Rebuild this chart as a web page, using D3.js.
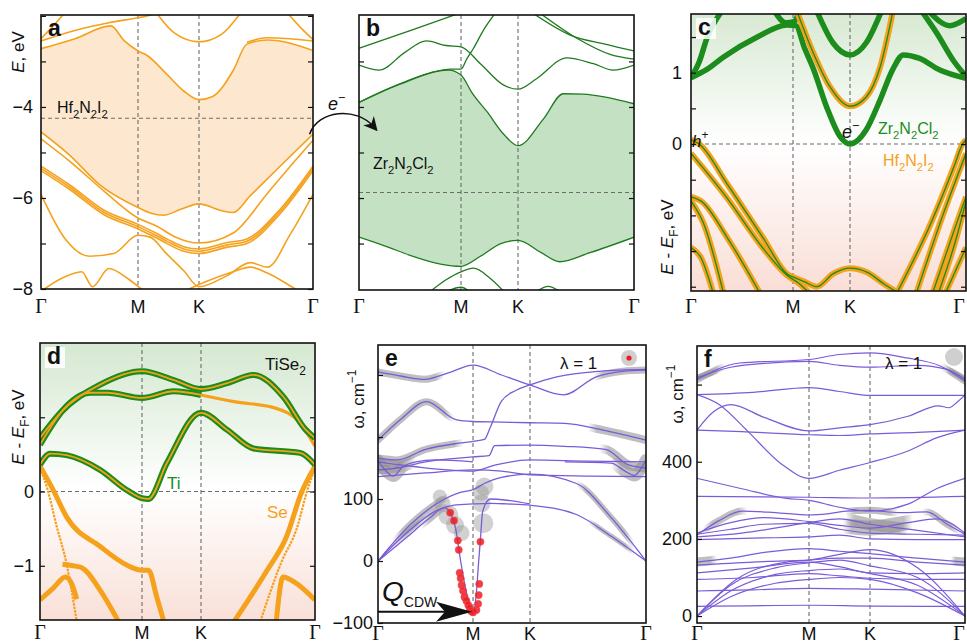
<!DOCTYPE html>
<html>
<head>
<meta charset="utf-8">
<script src="https://cdn.jsdelivr.net/npm/d3@7"></script>
<style>
  body { margin: 0; background: #fff; }
  text { font-family: "Liberation Sans", Arial, Helvetica, sans-serif; }
</style>
</head>
<body>
<svg id="fig" width="967" height="644"></svg>
<script>
// k path: 0 = Γ, 1 = M, 2 = K, 3 = Γ.  every band is a list of [k, value]
const kLabels = ["Γ", "M", "K", "Γ"];

// ---- a: Hf2N2I2 (eV)
const aGapTop = [[0,-2.72],[0.35,-2.5],[0.72,-2.22],[0.86,-2.55],[1,-2.77],[1.15,-2.87],[1.45,-3.25],[1.75,-3.65],[2,-3.84],[2.12,-3.77],[2.3,-3.2],[2.42,-2.62],[2.6,-2.53],[3,-2.76]];
const aGapBottom = [[0,-4.55],[0.3,-5.07],[0.6,-5.7],[1,-6.21],[1.2,-6.33],[1.42,-6.38],[1.7,-6.25],[2,-6.13],[2.2,-6.28],[2.3,-6.32],[2.45,-5.95],[2.7,-5.33],[3,-4.6]];
const aBands = [
  aGapTop, aGapBottom,
  [[0,-2.5],[0.1,-2.28],[0.25,-1.92]],
  [[0,-2.55],[0.35,-2.32],[0.7,-2.15],[1,-2.04],[1.15,-2.0],[1.3,-1.95]],
  [[1.31,-1.95],[1.6,-2.38],[2,-2.57],[2.2,-2.4],[2.36,-1.95]],
  [[2.42,-2.58],[2.6,-2.48],[3,-2.55]],
  [[2.78,-1.95],[2.9,-2.28],[3,-2.52]],
  [[0,-4.7],[0.3,-5.2],[0.65,-5.85],[1,-6.44],[1.31,-6.62],[1.6,-6.85],[2,-6.99],[2.3,-6.77],[2.6,-5.9],[2.85,-5.16],[3,-4.73]],
  [[0,-5.3],[0.3,-5.72],[0.65,-6.27],[1,-6.58],[1.25,-6.74],[1.5,-6.92],[1.75,-7.07],[2,-7.12],[2.25,-6.98],[2.42,-6.9],[2.7,-6.28],[3,-5.3]],
  [[0,-5.35],[0.3,-5.77],[0.65,-6.32],[1,-6.63],[1.25,-6.79],[1.5,-6.97],[1.75,-7.12],[2,-7.17],[2.25,-7.03],[2.42,-6.95],[2.7,-6.33],[3,-5.35]],
  [[0,-5.4],[0.3,-5.82],[0.65,-6.37],[1,-6.68],[1.25,-6.84],[1.5,-7.02],[1.75,-7.17],[2,-7.22],[2.25,-7.08],[2.42,-7.0],[2.7,-6.38],[3,-5.4]],
  [[0,-5.92],[0.25,-6.9],[0.5,-7.28],[0.75,-7.22],[1,-6.82],[1.2,-6.86],[1.45,-7.2],[1.75,-7.6],[2,-7.95],[2.25,-7.7],[2.45,-7.42],[2.6,-7.52],[2.8,-6.8],[3,-5.92]],
  [[0,-8.05],[0.2,-7.78],[0.42,-7.62],[0.53,-7.95],[0.7,-7.55],[0.9,-7.78],[1.1,-8.05]],
  [[1.75,-8.05],[2,-7.9],[2.3,-7.62],[2.45,-7.52],[2.6,-7.65],[2.78,-7.9],[2.88,-8.05]]
];

// ---- b: Zr2N2Cl2 (eV)
const bGapTop = [[0,-3.9],[0.4,-3.5],[0.88,-3.19],[1,-3.3],[1.2,-3.7],[1.46,-4.11],[1.75,-4.6],[2,-4.85],[2.22,-4.26],[2.39,-3.71],[2.56,-3.72],[3,-3.93]];
const bGapBottom = [[0,-6.86],[0.25,-7.05],[0.53,-7.28],[0.8,-7.45],[1,-7.5],[1.34,-7.28],[1.7,-7.0],[2,-6.93],[2.2,-7.2],[2.36,-7.4],[2.62,-7.2],[3,-6.86]];
const bBands = [
  bGapTop, bGapBottom,
  [[0,-3.9],[0.37,-3.52],[0.7,-3.25],[0.9,-3.17],[1,-3.17],[1.1,-2.95],[1.22,-2.71],[1.4,-2.3],[1.6,-1.94]],
  [[0,-3.08],[0.2,-3.19],[0.45,-2.8],[0.66,-2.55],[0.85,-2.65],[1,-2.68],[1.34,-3.05],[1.75,-3.52],[2,-3.61],[2.16,-3.38],[2.42,-2.92],[2.65,-3.05],[2.82,-3.19],[3,-3.08]],
  [[0,-2.71],[0.53,-2.3],[0.96,-1.96]],
  [[2.14,-1.96],[2.45,-2.42],[2.75,-2.62],[3,-2.77]],
  [[2.2,-1.96],[2.5,-2.48],[2.8,-2.85],[3,-2.95]],
  [[0.7,-8.05],[0.85,-7.8],[1,-7.62],[1.22,-7.54],[1.5,-7.75],[1.75,-8.05]],
  [[0.86,-8.05],[1,-7.96],[1.15,-8.05]],
  [[2.16,-8.05],[2.26,-7.94],[2.36,-8.05]]
];

// ---- c: heterostructure, E - EF (eV)
const cZr = [
  [[0,0.93],[0.16,1.05],[0.32,1.22],[0.65,1.5],[0.94,1.67],[1.05,1.66],[1.2,1.35],[1.36,1.05],[1.59,0.52],[1.83,0.1],[2,0],[2.14,0.2],[2.26,0.62],[2.37,1.05],[2.46,1.25],[2.6,1.2],[2.77,1.04],[3,0.92]],
  [[0,0.93],[0.08,1.15],[0.16,1.5],[0.3,1.86]],
  [[2.62,1.86],[2.75,1.55],[2.9,1.15],[3,0.95]],
  [[1.42,1.86],[1.7,1.42],[2,1.25],[2.14,1.42],[2.27,1.86]],
  [[2.68,1.86],[2.86,1.66],[3,1.76]],
  [[0.82,1.86],[0.93,1.7],[1.03,1.72],[1.1,1.86]]
];
const cHf = [
  [[1.07,1.86],[1.36,1.27],[1.65,0.8],[2,0.53],[2.14,0.66],[2.26,1.08],[2.37,1.86]],
  [[0,0.06],[0.08,0.0],[0.35,-0.55],[0.7,-1.3],[0.95,-1.83],[1.05,-1.88],[1.2,-1.93],[1.42,-2.0],[1.7,-1.82],[2,-1.74],[2.15,-1.8],[2.3,-1.97],[2.43,-2.1]],
  [[0,-0.13],[0.35,-0.75],[0.7,-1.45],[0.95,-1.85],[1.1,-1.95],[1.3,-2.1]],
  [[0,-0.74],[0.1,-0.8],[0.35,-1.3],[0.68,-2.1]],
  [[0,-0.8],[0.12,-1.1],[0.32,-2.1]],
  [[0,-1.45],[0.1,-1.6],[0.22,-2.1]],
  [[2.4,-2.1],[2.7,-1.1],[2.9,-0.3],[2.97,0.0],[3,0.06]],
  [[2.57,-2.1],[2.8,-1.0],[3,-0.13]],
  [[2.71,-2.1],[2.9,-1.2],[3,-0.74]],
  [[2.76,-2.1],[2.92,-1.3],[3,-0.8]],
  [[2.82,-2.1],[3,-1.45]]
];

// ---- d: TiSe2, E - EF (eV)
const dTi = [
  [[0,0.72],[0.2,1.06],[0.59,1.44],[1,1.62],[1.54,1.5],[2,1.38],[2.23,1.46],[2.46,1.57],[2.72,1.28],[2.92,0.83],[3,0.72]],
  [[0,0.63],[0.26,1.15],[0.49,1.33],[0.66,1.33],[1,1.26],[1.54,1.35],[2,1.3]],
  [[0,0.36],[0.1,0.51],[0.26,0.49],[0.59,0.29],[0.85,0.02],[1,-0.09],[1.11,-0.1],[1.42,0.38],[2,1.06],[2.23,0.83],[2.46,0.58],[2.87,0.52],[3,0.36]]
];
const dSeMid = [[2,1.3],[2.29,1.21],[2.66,1.12],[2.87,0.92],[3,0.61]];
const dSe = [
  [[0,0.34],[0.13,0.02],[0.26,-0.34],[0.59,-0.74],[0.85,-0.99],[1,-1.06],[1.11,-1.06],[1.25,-1.42],[1.37,-1.75]],
  [[2.29,-1.75],[2.58,-1.06],[2.75,-0.61],[2.88,-0.02],[3,0.34]],
  [[0.22,-0.98],[0.28,-0.99],[0.4,-1.02],[0.59,-1.33],[0.77,-1.75]],
  [[0,-1.46],[0.13,-1.3],[0.25,-1.15],[0.31,-1.24],[0.36,-1.45]],
  [[2.66,-1.75],[2.72,-1.15],[2.82,-1.22],[3,-1.46]]
];
const dSeWeak = [
  [[0,0.32],[0.08,0.0],[0.16,-0.45],[0.26,-0.97],[0.36,-1.75]],
  [[2.52,-1.75],[2.7,-0.97],[2.85,-0.45],[2.92,-0.05],[3,0.32]]
];

// ---- e: TiSe2 phonons (cm-1)
const eBands = [
  [[0,305],[0.25,298],[0.49,293],[0.75,304],[1,316],[1.5,300],[2,284],[2.29,268],[2.57,297],[2.8,306],[3,308]],
  [[0,166],[0.2,163],[0.5,180],[0.85,190],[1,193],[1.2,196],[1.3,215],[1.5,258],[1.75,275],[2,284],[2.23,297],[2.6,306],[3,309]],
  [[0,195],[0.25,230],[0.51,257],[0.82,228],[1,225],[1.5,224],[2,223],[2.3,222],[2.63,211],[3,195]],
  [[0,147],[0.2,150],[0.5,160],[0.85,166],[1,168],[1.28,170],[1.38,186],[2,187],[2.3,185],[2.65,180],[2.85,155],[3,150]],
  [[0,136],[0.5,142],[1,147],[1.5,145],[2,139],[2.5,137],[3,136]],
  [[0,160],[0.4,152],[1,145],[1.4,155],[2,163],[2.5,161],[3,160]],
  [[0,162],[0.08,146],[0.16,137],[0.26,152],[0.4,160],[0.6,163],[1,160]],
  [[2.3,160],[2.7,158],[2.82,145],[2.9,138],[2.96,150],[3,163]],
  [[0,0],[0.3,45],[0.6,80],[0.8,90],[1,92],[1.3,93],[1.6,92],[2,90],[2.4,75],[2.7,40],[3,0]],
  [[0,0],[0.35,60],[0.7,100],[0.85,110],[1,115],[1.2,125],[1.5,135],[2,140],[2.4,125],[2.7,70],[3,0]],
  [[0,0],[0.3,38],[0.55,70],[0.7,86],[0.76,78],[0.82,50],[0.87,0],[0.93,-50],[1,-84],[1.06,-50],[1.1,0],[1.13,35],[1.17,80],[1.3,100],[1.6,98],[2,92]]
];
// [band, k from, k to, width]
const eHalos = [[0,0,0.7,7],[0,2.55,3,7],[2,0,0.8,7],[2,2.5,3,8],[1,0,0.9,7],[3,0,0.3,9],[3,2.6,3,9],
  [6,0,0.4,12],[7,2.7,3,12],[5,0,0.3,8],[9,0.15,0.75,7],[9,2.4,2.9,6],[8,0.2,0.5,5],[8,2.5,2.9,5],[10,0.45,0.75,8]];
// [k, ω, r]
const eBlobs = [[0.65,104,7],[0.68,92,8],[0.74,74,10],[0.81,58,9],[0.88,45,8],[1.2,120,9],[1.15,93,9],[1.18,61,10],[1.14,110,8]];
// [k, ω]  soft CDW mode
const eSoft = [[0.76,78],[0.8,65],[0.84,33],[0.85,18],[0.86,-19],[0.87,-28],[0.88,-39],[0.895,-48],[0.91,-58],[0.93,-64],[0.95,-71],[0.965,-76],[0.98,-81],[1.0,-83],[1.06,-79],[1.09,-69],[1.1,-55],[1.11,-37],[1.13,31]];

// ---- f: heterostructure phonons (cm-1)
const fBands = [
  [[0,613],[0.38,656],[1,665],[1.5,678],[2,682],[2.39,669],[2.74,648],[3,609]],
  [[0,618],[0.3,645],[0.6,655],[1,660],[1.5,650],[2,645],[2.5,650],[2.8,640],[3,614]],
  [[0,574],[0.5,580],[1,592],[1.5,582],[2,572],[3,572]],
  [[0,574],[0.2,548],[0.45,480],[0.75,395],[1,357],[1.5,378],[2,398],[2.4,428],[2.7,462],[3,482]],
  [[0,482],[0.15,530],[0.3,548],[0.6,515],[1,480],[1.5,488],[2,496],[2.4,518],[2.72,545],[2.83,540],[2.92,555],[3,573]],
  [[0,482],[0.4,478],[1,470],[1.5,468],[2,472],[2.5,476],[3,482]],
  [[0,357],[0.4,330],[0.8,305],[1,300],[1.5,282],[2,272],[2.4,290],[2.7,330],[3,357]],
  [[0,310],[1,308],[2,306],[3,310]],
  [[0,210],[0.2,248],[0.4,272],[0.7,268],[1,262],[1.3,265],[1.6,272],[2,274],[2.3,268],[2.6,270],[2.8,240],[3,212]],
  [[0,215],[0.3,242],[0.6,255],[1,245],[1.5,235],[2,228],[2.4,242],[2.7,252],[3,215]],
  [[0,205],[0.4,215],[1,242],[1.5,252],[2,238],[2.5,222],[3,205]],
  [[0,198],[0.5,202],[1,205],[1.5,210],[2,200],[2.5,198],[3,198]],
  [[0,212],[0.3,225],[0.6,238],[1,240],[1.5,225],[2,215],[2.5,212],[3,210]],
  [[0,140],[0.3,150],[0.6,165],[1,175],[1.5,168],[2,162],[2.5,150],[3,140]],
  [[0,132],[0.5,140],[1,145],[1.5,150],[2,150],[2.5,140],[3,132]],
  [[0,112],[0.5,125],[1,140],[1.5,128],[2,112],[2.5,110],[3,112]],
  [[0,95],[0.5,100],[1,110],[1.5,104],[2,98],[2.5,95],[3,95]],
  [[0,65],[0.5,68],[1,72],[2,70],[3,65]],
  [[0,25],[1,28],[2,26],[3,25]],
  [[0,0],[0.3,50],[0.7,85],[1,95],[1.5,100],[2,95],[2.5,60],[3,0]],
  [[0,0],[0.3,65],[0.7,108],[1,118],[1.5,122],[2,110],[2.5,80],[3,0]],
  [[0,0],[0.3,80],[0.7,125],[1,138],[1.5,145],[2,130],[2.5,100],[3,0]],
  [[0,0],[0.35,95],[0.8,140],[1,145],[1.5,160],[2,172],[2.5,125],[3,0]]
];
const fHalos = [[0,0,0.25,7],[1,0,0.2,6],[0,2.75,3,7],[1,2.8,3,6],[8,0.05,0.45,7],[8,2.55,2.95,7],
  [9,1.55,2.45,15],[10,1.6,2.4,12],[8,1.6,2.3,7],[13,0,0.18,9],[13,2.85,3,9]];

const ORANGE = "#f5a11c", GREEN = "#1f7a1f", ZR = "#1c8c1c", PURPLE = "#7a5bd8";

const svg = d3.select("#fig");
const defs = svg.append("defs");
let uid = 0;

function makePanel(p) {
  const x = d3.scaleLinear().domain([0, 1, 2, 3]).range(p.xs);
  const y = d3.scaleLinear().domain(p.yDomain).range([p.bottom, p.top]);
  const id = "clip" + (uid++);
  defs.append("clipPath").attr("id", id).append("rect")
    .attr("x", p.xs[0]).attr("y", p.top)
    .attr("width", p.xs[3] - p.xs[0]).attr("height", p.bottom - p.top);
  const g = svg.append("g");
  const inner = g.append("g").attr("clip-path", `url(#${id})`);
  const line = d3.line().x(d => x(d[0])).y(d => y(d[1])).curve(d3.curveMonotoneX);
  return { p, x, y, g, inner, line };
}

function background(P, top, bottom) {
  const id = "grad" + (uid++);
  const z = (P.y(0) - P.p.top) / (P.p.bottom - P.p.top);
  const lg = defs.append("linearGradient").attr("id", id)
    .attr("gradientUnits", "userSpaceOnUse")
    .attr("x1", 0).attr("x2", 0).attr("y1", P.p.top).attr("y2", P.p.bottom);
  lg.append("stop").attr("offset", 0).attr("stop-color", top);
  lg.append("stop").attr("offset", z).attr("stop-color", "#ffffff");
  lg.append("stop").attr("offset", 1).attr("stop-color", bottom);
  P.inner.append("rect").attr("x", P.x(0)).attr("y", P.p.top)
    .attr("width", P.x(3) - P.x(0)).attr("height", P.p.bottom - P.p.top)
    .attr("fill", `url(#${id})`);
}

function gapFill(P, upper, lower, color) {
  const id = "gap" + (uid++);
  const { x, p, line } = P;
  defs.append("clipPath").attr("id", id).append("path")
    .attr("d", line(upper) + `L${x(3)},${p.bottom + 5}L${x(0)},${p.bottom + 5}Z`);
  P.inner.append("path").attr("clip-path", `url(#${id})`)
    .attr("d", line(lower) + `L${x(3)},${p.top - 5}L${x(0)},${p.top - 5}Z`)
    .attr("fill", color);
}

function dashes(P, ef) {
  const d = P.inner.append("g").attr("stroke", "#6b6b6b").attr("stroke-width", 1.1)
    .attr("stroke-dasharray", "4,3").attr("fill", "none");
  [1, 2].forEach(k => d.append("line").attr("x1", P.x(k)).attr("x2", P.x(k))
    .attr("y1", P.p.top).attr("y2", P.p.bottom));
  if (ef !== undefined) d.append("line").attr("x1", P.x(0)).attr("x2", P.x(3))
    .attr("y1", P.y(ef)).attr("y2", P.y(ef));
}

function bands(P, data, color, width, dash) {
  P.inner.append("g").selectAll("path").data(data).join("path")
    .attr("d", P.line).attr("fill", "none").attr("stroke", color)
    .attr("stroke-width", width).attr("stroke-linejoin", "round")
    .attr("stroke-dasharray", dash || null);
}

// grey coupling halo along part of a band, fading out at its ends
function halos(P, data, list) {
  list.forEach(([b, k0, k1, w]) => {
    const x0 = P.x(k0), x1 = P.x(k1), len = x1 - x0;
    const f = Math.min(0.35, 9 / len);
    const gid = "hg" + (uid++), mid = "hm" + (uid++);
    const lg = defs.append("linearGradient").attr("id", gid)
      .attr("gradientUnits", "userSpaceOnUse").attr("x1", x0).attr("x2", x1).attr("y1", 0).attr("y2", 0);
    lg.append("stop").attr("offset", 0).attr("stop-color", k0 === 0 ? "#fff" : "#000");
    lg.append("stop").attr("offset", f).attr("stop-color", "#fff");
    lg.append("stop").attr("offset", 1 - f).attr("stop-color", "#fff");
    lg.append("stop").attr("offset", 1).attr("stop-color", k1 === 3 ? "#fff" : "#000");
    defs.append("mask").attr("id", mid).attr("maskUnits", "userSpaceOnUse")
      .attr("x", x0).attr("y", P.p.top).attr("width", len).attr("height", P.p.bottom - P.p.top)
      .append("rect").attr("x", x0).attr("y", P.p.top).attr("width", len)
      .attr("height", P.p.bottom - P.p.top).attr("fill", `url(#${gid})`);
    P.inner.append("path").attr("mask", `url(#${mid})`)
      .attr("d", P.line(data[b])).attr("fill", "none")
      .attr("stroke", "#8a8a8a").attr("stroke-opacity", 0.55)
      .attr("stroke-width", w).attr("stroke-linecap", "round");
  });
}

function frame(P, o) {
  const { g, x, y, p } = P;
  const fmt = v => o.labels.includes(v) ? d3.format("")(v) : "";
  const la = g.append("g").attr("transform", `translate(${x(0)},0)`)
    .call(d3.axisLeft(y).tickValues(o.ticks).tickSize(-5).tickPadding(o.pad || 7).tickFormat(fmt));
  la.select(".domain").remove();
  la.selectAll("text").attr("font-size", 18).attr("fill", "#111")
    .attr("font-family", "'Liberation Sans', Arial, sans-serif");
  la.selectAll("line").attr("stroke", "#111").attr("stroke-width", 1.2);
  if (o.right) {
    const ra = g.append("g").attr("transform", `translate(${x(3)},0)`)
      .call(d3.axisRight(y).tickValues(o.ticks).tickSize(-5).tickFormat(""));
    ra.select(".domain").remove();
    ra.selectAll("line").attr("stroke", "#111").attr("stroke-width", 1.2);
  }
  g.append("rect").attr("x", x(0)).attr("y", p.top)
    .attr("width", x(3) - x(0)).attr("height", p.bottom - p.top)
    .attr("fill", "none").attr("stroke", "#111").attr("stroke-width", 1.6);
  // keep the last Γ inside the page when the panel touches the right edge
  g.selectAll("text.k").data(kLabels).join("text").attr("class", "k")
    .attr("x", (d, i) => Math.min(x(i), 959)).attr("y", o.kY)
    .attr("text-anchor", "middle").attr("fill", "#111")
    .attr("font-size", d => d === "Γ" ? 20 : 18)
    .style("font-family", d => d === "Γ" ? "'Liberation Serif', 'Times New Roman', serif" : null)
    .text(d => d);
}

function letter(P, s, box) {
  const px = P.x(0) + 7, py = P.p.top + 21;
  if (box) P.g.append("rect").attr("x", px - 2).attr("y", py - 17).attr("width", 20).attr("height", 21)
    .attr("fill", "#fff").attr("opacity", 0.85);
  P.g.append("text").attr("x", px).attr("y", py).attr("font-size", 23)
    .attr("font-weight", "bold").attr("fill", "#111").text(s);
}

// rich text: parts [text, kind] with kind "", "i", "sub", "sup"
function rich(sel, x, y, parts, o = {}) {
  const size = o.size || 17;
  const t = sel.append("text").attr("x", x).attr("y", y)
    .attr("font-size", size).attr("fill", o.color || "#111");
  if (o.anchor) t.attr("text-anchor", o.anchor);
  if (o.rotate) t.attr("transform", `rotate(-90,${x},${y})`);
  let shift = 0;
  parts.forEach(([s, k]) => {
    const ts = t.append("tspan").text(s);
    const kinds = (k || "").split(" ");
    let target = 0;
    if (kinds.includes("sub")) { target = 0.32; ts.attr("font-size", size * 0.7); }
    if (kinds.includes("sup")) { target = -0.45; ts.attr("font-size", size * 0.7); }
    if (kinds.includes("i")) ts.attr("font-style", "italic");
    if (o.big && kinds.includes("big")) ts.attr("font-size", o.big);
    if (target !== shift) ts.attr("dy", (target - shift) * size);
    shift = target;
  });
  return t;
}

// ---------- panel a
const A = makePanel({ xs: [41, 138, 199, 313], top: 15, bottom: 289, yDomain: [-8, -1.98] });
gapFill(A, aGapTop, aGapBottom, "#fde8cf");
dashes(A, -4.25);
bands(A, aBands, ORANGE, 1.6);
frame(A, { ticks: [-8, -7, -6, -5, -4, -3, -2], labels: [-8, -6, -4], right: true, pad: 8, kY: 313 });
letter(A, "a");
rich(A.g, 57, 113, [["Hf"], ["2", "sub"], ["N"], ["2", "sub"], ["I"], ["2", "sub"]], { size: 16 });
rich(svg, 24, 52, [["E", "i"], [", eV"]], { size: 17, anchor: "middle", rotate: true });

// ---------- panel b
const B = makePanel({ xs: [359, 461, 518, 634], top: 15, bottom: 290, yDomain: [-8.02, -1.98] });
gapFill(B, bGapTop, bGapBottom, "#c4e2c3");
dashes(B, -5.88);
bands(B, bBands, GREEN, 1.3);
frame(B, { ticks: [-7, -6, -5, -4, -3], labels: [], right: true, kY: 313 });
letter(B, "b");
rich(B.g, 373, 169, [["Zr"], ["2", "sub"], ["N"], ["2", "sub"], ["Cl"], ["2", "sub"]], { size: 16 });

// ---------- panel c
const C = makePanel({ xs: [691, 793, 850, 966], top: 14, bottom: 291, yDomain: [-2.06, 1.823] });
background(C, "#d8e9d3", "#f9ded6");
dashes(C, 0);
bands(C, cZr, ZR, 5.5);
bands(C, cHf, ORANGE, 6);
bands(C, cHf, ZR, 1.3);
frame(C, { ticks: [-2, -1.5, -1, -0.5, 0, 0.5, 1, 1.5], labels: [0, 1], right: true, pad: 9, kY: 313 });
letter(C, "c", true);
rich(C.g, 878, 134, [["Zr"], ["2", "sub"], ["N"], ["2", "sub"], ["Cl"], ["2", "sub"]], { size: 16, color: ZR });
rich(C.g, 883, 166, [["Hf"], ["2", "sub"], ["N"], ["2", "sub"], ["I"], ["2", "sub"]], { size: 16, color: ORANGE });
rich(C.g, 842, 138, [["e", "i"], ["−", "sup"]], { size: 18 });
rich(C.g, 692, 147, [["h", "i"], ["+", "sup"]], { size: 17 });
rich(svg, 673, 237, [["E", "i"], [" - "], ["E", "i"], ["F", "sub"], [", eV"]], { size: 17, anchor: "middle", rotate: true });

// ---------- panel d
const D = makePanel({ xs: [40, 142, 201, 315], top: 343, bottom: 620, yDomain: [-1.73, 2.0] });
background(D, "#d5e8d1", "#f9e0d8");
dashes(D, 0);
bands(D, dSeWeak, ORANGE, 2.2, "2.5,1");
bands(D, [dSeMid], ORANGE, 3.2);
bands(D, dSe, ORANGE, 5);
bands(D, dTi, ZR, 6);
bands(D, dTi, ORANGE, 1.8);
frame(D, { ticks: [-1, 0, 1], labels: [-1, 0], right: true, pad: 6, kY: 639 });
letter(D, "d", true);
rich(D.g, 265, 370, [["TiSe"], ["2", "sub"]], { size: 17 });
rich(D.g, 167, 489, [["Ti"]], { size: 17, color: ZR });
rich(D.g, 267, 518, [["Se"]], { size: 17, color: ORANGE });
rich(svg, 24, 427, [["E", "i"], [" - "], ["E", "i"], ["F", "sub"], [", eV"]], { size: 17, anchor: "middle", rotate: true });

// ---------- panel e
const E = makePanel({ xs: [378, 473, 530, 646], top: 345, bottom: 623, yDomain: [-100, 348.4] });
dashes(E);
halos(E, eBands, eHalos);
E.inner.append("g").selectAll("circle").data(eBlobs).join("circle")
  .attr("cx", d => E.x(d[0])).attr("cy", d => E.y(d[1])).attr("r", d => d[2])
  .attr("fill", "#9a9a9a").attr("opacity", 0.45);
bands(E, eBands, PURPLE, 1.3);
E.inner.append("g").selectAll("circle").data(eSoft).join("circle")
  .attr("cx", d => E.x(d[0])).attr("cy", d => E.y(d[1])).attr("r", 3.6)
  .attr("fill", "#ec1c24").attr("fill-opacity", 0.85).attr("stroke", "#f04a4a").attr("stroke-width", 0.6);
frame(E, { ticks: [-100, 0, 100, 200, 300], labels: [-100, 0, 100], pad: 5, kY: 640 });
letter(E, "e");
E.g.append("text").attr("x", 560).attr("y", 369).attr("font-size", 17).attr("fill", "#111").text("λ = 1");
E.g.append("circle").attr("cx", 629).attr("cy", 358).attr("r", 8).attr("fill", "#cfcfcf");
E.g.append("circle").attr("cx", 629).attr("cy", 358).attr("r", 2.6).attr("fill", "#ec1c24");
rich(svg, 364, 399, [["ω, cm"], ["−1", "sup"]], { size: 17, anchor: "middle", rotate: true });
// Q_CDW arrow pointing at the soft-mode minimum at M
{
  const tx = E.x(1) - 1, ty = E.y(-82);
  const ag = E.g.append("g");
  ag.append("line").attr("x1", E.x(0)).attr("x2", tx - 25).attr("y1", ty).attr("y2", ty)
    .attr("stroke", "#111").attr("stroke-width", 2);
  ag.append("path").attr("d", `M${tx},${ty}L${tx - 36},${ty - 10}L${tx - 27},${ty}L${tx - 36},${ty + 10}Z`)
    .attr("fill", "#111");
  rich(E.g, 382, 601, [["Q", "i big"], ["CDW", "sub"]], { size: 20, big: 28 });
}

// ---------- panel f
const F = makePanel({ xs: [697, 809, 870, 965], top: 346, bottom: 623, yDomain: [-18, 700] });
dashes(F);
halos(F, fBands, fHalos);
bands(F, fBands, PURPLE, 1.2);
frame(F, { ticks: [0, 200, 400, 600], labels: [0, 200, 400], pad: 5, kY: 640 });
letter(F, "f");
F.g.append("text").attr("x", 885).attr("y", 369).attr("font-size", 17).attr("fill", "#111").text("λ = 1");
F.g.append("circle").attr("cx", 954).attr("cy", 357).attr("r", 9).attr("fill", "#cfcfcf");
rich(svg, 683, 394, [["ω, cm"], ["−1", "sup"]], { size: 17, anchor: "middle", rotate: true });

// ---------- electron transfer arrow a -> b
defs.append("marker").attr("id", "head").attr("viewBox", "0 0 10 10")
  .attr("refX", 6).attr("refY", 5).attr("markerWidth", 14).attr("markerHeight", 14)
  .attr("markerUnits", "userSpaceOnUse").attr("orient", "auto")
  .append("path").attr("d", "M0,0L10,5L0,10L3,5Z").attr("fill", "#111");
svg.append("path").attr("d", `M${A.x(2.97)},${A.y(-4.6)} C318,110 356,106 374,127`)
  .attr("fill", "none").attr("stroke", "#111").attr("stroke-width", 1.5)
  .attr("marker-end", "url(#head)");
rich(svg, 328, 110, [["e", "i"], ["−", "sup"]], { size: 18 });
</script>
</body>
</html>
